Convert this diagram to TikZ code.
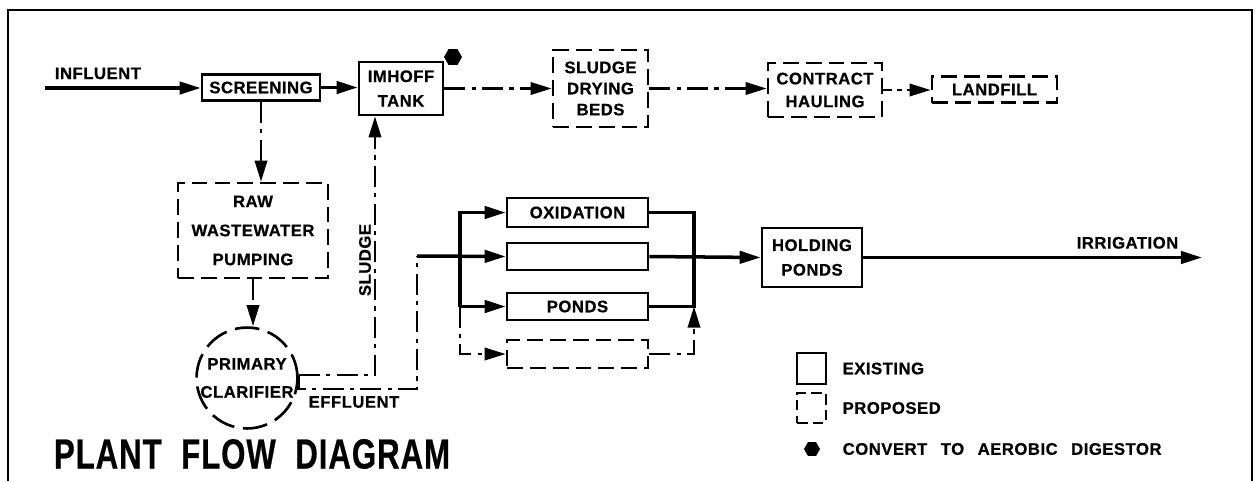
\documentclass[tikz,border=0pt]{standalone}
\usepackage{fontspec}
\setmainfont{Liberation Sans}[LetterSpace=3,BoldFeatures={FakeBold=0.6}]
\usepackage{graphicx}
\usetikzlibrary{arrows.meta,calc,positioning,shapes.geometric}

\begin{document}
\begin{tikzpicture}[x=0.02cm,y=-0.02cm,font=\bfseries\fontsize{9.5}{14}\selectfont,
    every node/.style={align=center,inner sep=0pt},
    unit/.style={draw,line width=1.5pt,minimum height=0.52cm},
    newunit/.style={unit,dash pattern=on 9pt off 4pt},
    mainline/.style={line width=2pt},
    newline/.style={line width=1.5pt,dash pattern=on 12pt off 3.5pt on 2.5pt off 3.5pt},
    flow/.style={mainline,-{Triangle[length=12pt,width=7pt]}},
    newflow/.style={newline,-{Triangle[length=12pt,width=7pt]}},
    dot/.style={regular polygon,regular polygon sides=6,fill,minimum size=0.36cm}]
    \useasboundingbox (0,0) rectangle (1258,481);
    \draw[line width=1.2pt] (8,481) -- (8,10) -- (1252,10) -- (1252,481);
    % sludge line along the top
    \node[unit,minimum width=2.36cm] (screen) at (261,87.5) {SCREENING};
    \node[unit,minimum width=1.68cm,minimum height=1.06cm] (imhoff) at (401,88.5) {IMHOFF\\TANK};
    \node[dot] (digest) at (453,57) {};
    \node[newunit,minimum width=1.9cm,minimum height=1.54cm,font=\bfseries\fontsize{9.5}{12}\selectfont] (beds) at (600.5,88.5) {SLUDGE\\DRYING\\BEDS};
    \node[newunit,minimum width=2.28cm,minimum height=1.08cm,font=\bfseries\fontsize{9.5}{13}\selectfont] (haul) at (825,90) {CONTRACT\\HAULING};
    \node[newunit,minimum width=2.5cm] (landfill) at (994.5,89.5) {LANDFILL};
    \node[newunit,minimum width=3cm,minimum height=1.9cm,font=\bfseries\fontsize{9.5}{16.5}\selectfont] (raw) at (253,230.5) {RAW\\WASTEWATER\\PUMPING};
    \node[draw,circle,line width=1.5pt,dash pattern=on 14pt off 5pt,minimum size=2cm,font=\bfseries\fontsize{9.5}{16}\selectfont] (clar) at (247,378) {PRIMARY\\CLARIFIER};
    % pond trains
    \node[unit,minimum width=2.82cm,minimum height=0.58cm] (oxid) at (577.5,212.5) {OXIDATION};
    \node[unit,minimum width=2.82cm,minimum height=0.54cm] (midpond) at (577.5,256.5) {};
    \node[unit,minimum width=2.82cm,minimum height=0.54cm] (ponds) at (577.5,306.5) {PONDS};
    \node[newunit,minimum width=2.82cm,minimum height=0.56cm] (newpond) at (577.5,354) {};
    \node[unit,minimum width=2cm,minimum height=1.18cm] (hold) at (812,257.5) {HOLDING\\PONDS};
    % legend
    \node[unit,minimum width=0.58cm,minimum height=0.62cm] (exist) at (811.5,368.5) {};
    \node[newunit,minimum width=0.58cm,minimum height=0.6cm,dash pattern=on 6pt off 3pt] (prop) at (811.5,408) {};
    \node[dot,minimum size=0.32cm] (aerob) at (812,449) {};
    \node[right=0.3cm of exist] (existtxt) {EXISTING};
    \node[right=0.3cm of prop] (proptxt) {PROPOSED};
    \node[right=0.44cm of aerob] (aerobtxt) {CONVERT \enspace TO \enspace AEROBIC \enspace DIGESTOR};
    \node (title) at (252,454) {\fontsize{24}{28}\selectfont\scalebox{0.74}[1]{PLANT\hspace{15pt}FLOW\hspace{15pt}DIAGRAM}};
    \node[rotate=90] (sludgetxt) at (365,260) {SLUDGE};
    \node (efftxt) at (354,402) {EFFLUENT};
    \coordinate (inlet) at (45,88);
    \coordinate (sludgecorner) at (375,375);
    \coordinate (effcorner) at (417,389);
    \coordinate (effup) at (417,256);
    \coordinate (bus) at (460,256);
    \coordinate (collect) at (694,256);
    \coordinate (outlet) at (1202,256);
    \draw[flow] (inlet) -- node[pos=0.34,above=4pt]{INFLUENT} (screen.west |- inlet);
    \draw[flow] (screen.east) -- (screen.east -| imhoff.west);
    \draw[newflow] (imhoff.east) -- (beds.west);
    \draw[newflow] (beds.east) -- (beds.east -| haul.west);
    \draw[newflow,dash pattern=on 5pt off 3pt on 2.5pt off 3pt] (haul.east) -- (haul.east -| landfill.west);
    \draw[newflow] (screen.south) -- (screen.south |- raw.north);
    \draw[newflow] (raw.south) -- (raw.south |- clar.north);
    \draw[newflow] (clar.east |- sludgecorner) -- (sludgecorner) -- (sludgecorner |- imhoff.south);
    \draw[newline] (clar.east |- sludgecorner) -- (clar.east |- effcorner) -- (effcorner) -- (effup);
    \draw[flow] (effup) -- (midpond.west);
    \draw[flow] (bus |- ponds.west) -- (bus |- oxid.west) -- (oxid.west);
    \draw[flow] (bus |- ponds.west) -- (ponds.west);
    \draw[newflow] (bus |- ponds.west) -- (bus |- newpond.west) -- (newpond.west);
    \draw[mainline] (oxid.east) -| (collect |- ponds.east) -- (ponds.east);
    \draw[newflow] (newpond.east) -| (collect |- ponds.east);
    \draw[flow] (midpond.east) -- (hold.west);
    \draw[flow] (hold.east) -- node[pos=0.78,above=4pt]{IRRIGATION} (hold.east -| outlet);
\end{tikzpicture}
\end{document}
